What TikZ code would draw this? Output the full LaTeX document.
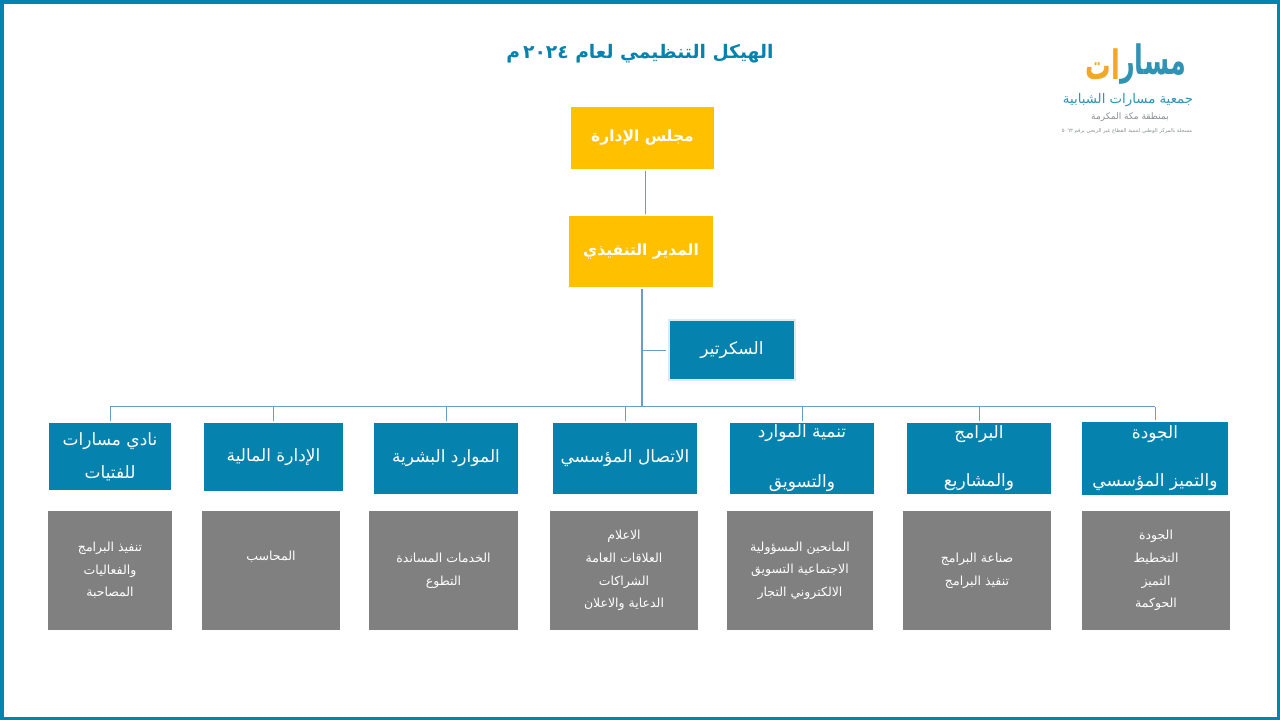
\documentclass[tikz,border=0pt]{standalone}
\usepackage{graphicx}
\usepackage{fontspec}
\TeXXeTstate=1
\newfontfamily\arabicfont[Script=Arabic]{DejaVu Sans}
\newcommand{\ar}[1]{\beginR#1\endR}
\definecolor{frameteal}{HTML}{0583AE}
\definecolor{amberbox}{HTML}{FFC000}
\definecolor{greybox}{HTML}{808080}
\definecolor{wire}{HTML}{6A9BD1}
\definecolor{logoorange}{HTML}{F2A823}
\definecolor{logoteal}{HTML}{2F93B4}
\definecolor{logogrey}{HTML}{8A8F92}
\tikzset{
  basebox/.style={rectangle,inner sep=0pt,align=center,text=white,font=\arabicfont},
  topbox/.style={basebox,fill=amberbox,font=\arabicfont\bfseries\fontsize{15.5}{20}\selectfont},
  secbox/.style={basebox,fill=frameteal,draw=white!85!frameteal,line width=2pt,font=\arabicfont\fontsize{17}{20}\selectfont},
  deptbox/.style={basebox,fill=frameteal,font=\arabicfont\fontsize{17}{20}\selectfont},
  taskbox/.style={basebox,fill=greybox,text=white,font=\arabicfont\fontsize{12.5}{22.6}\selectfont},
  link/.style={draw=wire,line width=1pt},
  trunk/.style={draw=wire,line width=1.6pt},
  logoword/.style={inner sep=0pt,font=\arabicfont\bfseries\fontsize{30}{30}\selectfont},
}
\newcommand{\boxat}[7]{% name style x0 y0 x1 y1 text
  \node[#2,minimum width=#5pt-#3pt,minimum height=#6pt-#4pt] (#1) at ({(#3+#5)/2},{(#4+#6)/2}) {#7};}
\begin{document}
\begin{tikzpicture}[x=1pt,y=-1pt]
\useasboundingbox (0,0) rectangle (1280,720);
\draw[frameteal,line width=3.5pt] (1.75,1.75) rectangle (1278.25,718.25);

\node[text=frameteal,font=\arabicfont\bfseries\fontsize{18.7}{24}\selectfont] (title) at (640,54) {\ar{الهيكل التنظيمي لعام \beginL ٢٠٢٤\endL\hspace{3pt}م}};

% logo
\node[logoword,text=logoteal,anchor=west] (logoa) at (1120,64) {\scalebox{0.85}[1.35]{\ar{مسار}}};
\node[logoword,text=logoorange,anchor=east] (logob) at (logoa.west) {\scalebox{0.85}[1.35]{\ar{ات}}};
\node[inner sep=0pt,text=logoteal,font=\arabicfont\fontsize{13.3}{14}\selectfont] (logoname) at (1128,100) {\ar{جمعية مسارات الشبابية}};
\node[inner sep=0pt,text=logogrey,font=\arabicfont\fontsize{9}{10}\selectfont] (logoregion) at (1130,117) {\ar{بمنطقة مكة المكرمة}};
\node[inner sep=0pt,text=logogrey,font=\arabicfont\fontsize{5.2}{6}\selectfont] (logoreg) at (1127,131) {\ar{مسجلة بالمركز الوطني لتنمية القطاع غير الربحي برقم \beginL ٥٠٦٣\endL}};

\boxat{council}{topbox}{571}{107}{714}{169}{\ar{مجلس الإدارة}}
\boxat{director}{topbox}{569}{216}{713}{287}{\ar{المدير التنفيذي}}
\boxat{secretary}{secbox}{669}{320}{795}{380}{\ar{السكرتير}}

\boxat{d1}{deptbox}{49}{423}{171}{490}{\ar{نادي مسارات}\\[13pt]\ar{للفتيات}}
\boxat{d2}{deptbox}{204}{423}{343}{491}{\ar{الإدارة المالية}}
\boxat{d3}{deptbox}{374}{423}{518}{494}{\ar{الموارد البشرية}}
\boxat{d4}{deptbox}{553}{423}{697}{494}{\ar{الاتصال المؤسسي}}
\boxat{d5}{deptbox}{730}{423}{874}{494}{\ar{تنمية الموارد}\\[30pt]\ar{والتسويق}}
\boxat{d6}{deptbox}{907}{423}{1051}{494}{\ar{البرامج}\\[28pt]\ar{والمشاريع}}
\boxat{d7}{deptbox}{1082}{422}{1228}{495}{\ar{الجودة}\\[28pt]\ar{والتميز المؤسسي}}

\boxat{t1}{taskbox}{48}{511}{172}{630}{\ar{تنفيذ البرامج}\\\ar{والفعاليات}\\\ar{المصاحبة}}
\boxat{t2}{taskbox}{202}{511}{340}{630}{\ar{المحاسب}\\\strut}
\boxat{t3}{taskbox}{369}{511}{518}{630}{\ar{الخدمات المساندة}\\\ar{التطوع}}
\boxat{t4}{taskbox}{550}{511}{698}{630}{\ar{الاعلام}\\\ar{العلاقات العامة}\\\ar{الشراكات}\\\ar{الدعاية والاعلان}}
\boxat{t5}{taskbox}{727}{511}{873}{630}{\ar{المانحين المسؤولية}\\\ar{الاجتماعية التسويق}\\\ar{الالكتروني التجار}}
\boxat{t6}{taskbox}{903}{511}{1051}{630}{\ar{صناعة البرامج}\\\ar{تنفيذ البرامج}}
\boxat{t7}{taskbox}{1082}{511}{1230}{630}{\ar{الجودة}\\\ar{التخطيط}\\\ar{التميز}\\\ar{الحوكمة}}

\coordinate (bus) at (641.7,406.5);
\coordinate (secjoin) at (641.7,350);
\draw[link,shorten <=2pt,shorten >=2pt] ([xshift=2.5pt]council.south) -- ([xshift=4pt]director.north);
\draw[trunk,shorten <=2pt] (director.south -| bus) -- (bus);
\draw[link,shorten >=2pt] (secjoin) -- (secretary.west);
\draw[link] (bus -| d1.north) -- (bus -| d7.north);
\foreach \d in {d1,d2,d3,d4,d5,d6,d7}{
  \draw[link,shorten >=2pt] (bus -| \d.north) -- (\d.north);
}
\end{tikzpicture}
\end{document}
